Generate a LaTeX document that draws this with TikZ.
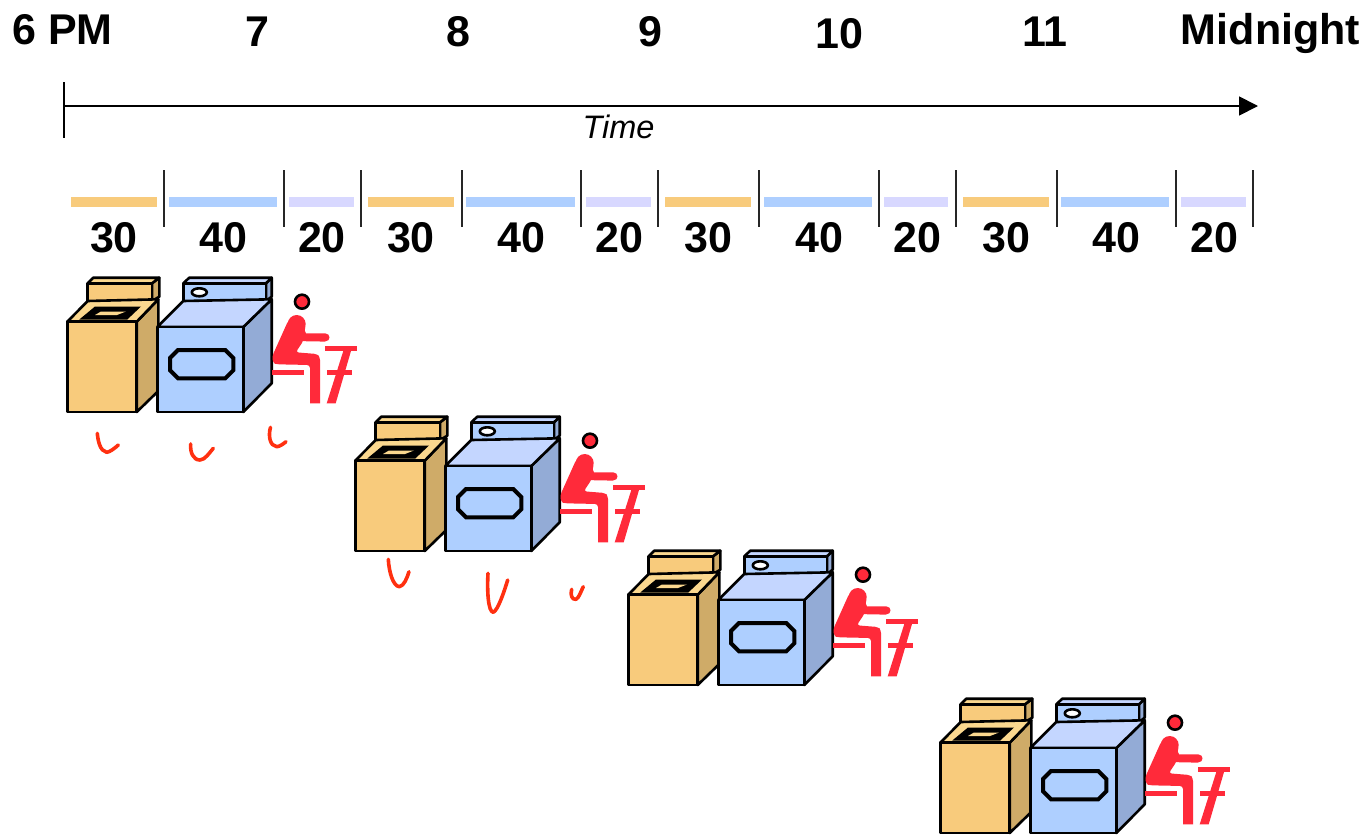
\documentclass[tikz,border=0pt]{standalone}
\usepackage{fontspec}
\setmainfont{Liberation Sans}
\usetikzlibrary{arrows.meta}
\definecolor{wfront}{HTML}{F8CB7C}
\definecolor{wside}{HTML}{CFAB68}
\definecolor{wtop}{HTML}{FBD88F}
\definecolor{dfront}{HTML}{AECFFF}
\definecolor{dside}{HTML}{93ABD6}
\definecolor{dtop}{HTML}{C4D6FF}
\definecolor{lav}{HTML}{D8D8FF}
\definecolor{pred}{HTML}{FF2A3A}
\definecolor{ink}{HTML}{FF3010}
\tikzset{
  hourlabel/.style={font=\fontsize{43}{50}\selectfont\bfseries,inner sep=0pt,anchor=center},
  durlabel/.style={font=\fontsize{43}{50}\selectfont\bfseries,inner sep=0pt,anchor=center},
  bar/.style={line width=10pt},
  tickline/.style={draw=black!85,line width=1.8pt},
  box/.style={draw=black,line width=2.6pt,line join=round},
  squiggle/.style={draw=ink,line width=3.6pt,line cap=round,line join=round},
  laundry/.pic={
    % washer
    \path[box,fill=wside] (85,-128.7) -- (92.3,-134.3) -- (92.3,-115.3) -- (85,-111) -- cycle;
    \path[box,fill=wtop] (26.3,-134.3) -- (92.3,-134.3) -- (85,-128.7) -- (20.7,-128.7) -- cycle;
    \path[box,fill=wfront] (20.7,-128.7) rectangle (85,-111);
    \path[box,fill=wside] (69.7,-90.3) -- (91.3,-112.7) -- (91.3,-21) -- (69.7,0) -- cycle;
    \path[box,fill=wtop] (0.3,-90.3) -- (20.7,-111) -- (91.3,-112.7) -- (69.7,-90.3) -- cycle;
    \path[fill=black] (12.3,-92.5) -- (28,-105.5) -- (74,-105.5) -- (60.3,-92.5) -- cycle;
    \path[fill=wtop] (28,-97) -- (34,-100.5) -- (59,-100.5) -- (50,-97) -- cycle;
    \path[box,fill=wfront] (0.3,-90.3) rectangle (69.7,0);
    % dryer
    \path[box,fill=dside] (199,-128.7) -- (204.7,-134.3) -- (204.7,-115.3) -- (199,-111) -- cycle;
    \path[box,fill=dtop] (122.3,-134.3) -- (204.7,-134.3) -- (199,-128.7) -- (116.3,-128.7) -- cycle;
    \path[box,fill=dfront] (116.3,-128.7) rectangle (199,-111);
    \path[box,fill=white] (132.3,-119.7) ellipse [x radius=7.5pt,y radius=4pt];
    \path[box,fill=dside] (176.3,-85) -- (204.7,-112.7) -- (204.7,-28.7) -- (176.3,0) -- cycle;
    \path[box,fill=dtop] (90.3,-85) -- (116.3,-111) -- (204.7,-112.7) -- (176.3,-85) -- cycle;
    \path[box,fill=dfront] (90.3,-85) rectangle (176.3,0);
    \draw[line width=4pt,line join=miter,draw=black]
      (111,-62) -- (158.3,-62) -- (166.3,-54) -- (166.3,-41.7) -- (158.3,-33.7)
      -- (111,-33.7) -- (103,-41.7) -- (103,-54) -- cycle;
    % person
    \path[box,fill=pred] (235,-110.3) circle [radius=7pt];
    \path[fill=pred] (229.7,-88) circle [radius=9pt];
    \path[fill=pred,rounded corners=3pt]
      (221.5,-92) -- (205.3,-56) -- (206,-49) -- (209.7,-47.7) -- (243,-47)
      [sharp corners] -- (243,-8.7) -- (253,-8.7)
      [rounded corners=3pt] -- (253,-55) -- (250,-58) -- (228.7,-59.7)
      -- (236.3,-71) -- (238.7,-88) -- cycle;
    \path[fill=pred] (236,-71) .. controls (240,-70.5) and (250,-70.5) .. (258,-70.5)
      .. controls (264,-70.5) and (264,-78.7) .. (258,-78.7) -- (239,-78.7) -- (236,-85) -- cycle;
    \path[fill=pred] (205,-42) rectangle (237,-37.5);
    \path[fill=pred] (258,-66) rectangle (290,-61);
    \path[fill=pred] (276.3,-61) -- (284,-61) -- (268.7,-8.7) -- (259.7,-8.7) -- cycle;
    \path[fill=pred] (260,-42) rectangle (285.3,-37);
  }
}
\begin{document}
\begin{tikzpicture}[x=1pt,y=-1pt]
\useasboundingbox (0,0) rectangle (1367,835);
% time axis
\coordinate (axisStart) at (64,106);
\coordinate (axisEnd) at (1258,106);
\coordinate (tickTop) at (64,82);
\coordinate (tickBot) at (64,138);
\draw[line width=1.8pt,-{Triangle[length=19pt,width=19pt]}] (axisStart) -- (axisEnd);
\draw[line width=1.8pt] (tickTop) -- (tickBot);
\node[font=\fontsize{32.5}{38}\selectfont\itshape,inner sep=0pt] (timeLabel) at (618.5,127) {Time};
% hour labels
\node[hourlabel] (h6) at (62.5,30) {6 PM};
\node[hourlabel] (h7) at (257,32) {7};
\node[hourlabel] (h8) at (458,32) {8};
\node[hourlabel] (h9) at (650,32) {9};
\node[hourlabel] (h10) at (839,34) {10};
\node[hourlabel] (h11) at (1045,32) {11};
\node[hourlabel] (h12) at (1270.5,33) {Midnight};
% bars
\foreach \a/\b in {71/157,368/454,665/751,963/1049}
  \draw[bar,draw=wfront] (\a,202) -- (\b,202);
\foreach \a/\b in {169/277,466/575,764/872,1061/1169}
  \draw[bar,draw=dfront] (\a,202) -- (\b,202);
\foreach \a/\b in {289/354,586/651,884/948,1181/1246}
  \draw[bar,draw=lav] (\a,202) -- (\b,202);
\foreach \x in {164,284,361,462,581,658,759,879,956,1057,1176,1253}
  \draw[tickline] (\x,170) -- (\x,227);
% durations
\foreach \n/\x/\t in {a/114/30,b/223.5/40,c/322/20,d/411/30,e/521/40,f/619.5/20,g/708/30,h/819/40,i/917/20,j/1006/30,k/1116/40,l/1214/20}
  \node[durlabel] (d\n) at (\x,238) {\t};
% washers, dryers and people
\pic at (67,412) {laundry};
\pic at (355,551) {laundry};
\pic at (628,685) {laundry};
\pic at (940,833) {laundry};
% handwritten ticks
\draw[squiggle] (97.3,433.3) .. controls (98,441) and (100,451) .. (106.7,452.3) .. controls (110,452) and (115,448) .. (118.3,445);
\draw[squiggle] (190.7,444) .. controls (190,452) and (193,460) .. (200,460) .. controls (205,460) and (210,452) .. (213.3,448.3);
\draw[squiggle] (270.5,427.3) .. controls (268,436) and (270,446) .. (276.7,446.7) .. controls (280,446.5) and (283,444) .. (286,441.7);
\draw[squiggle] (388.3,559.3) .. controls (389,572) and (393,586) .. (399.3,586.7) .. controls (404,586) and (407,578) .. (409,571.7);
\draw[squiggle] (488,573.3) .. controls (487,590) and (488,612) .. (493.3,612.3) .. controls (498,610) and (504,592) .. (507.7,580);
\draw[squiggle] (571.7,589.3) .. controls (570,595) and (572,600) .. (576,599.3) .. controls (579,598) and (581,591) .. (583.3,586.7);
\end{tikzpicture}
\end{document}
